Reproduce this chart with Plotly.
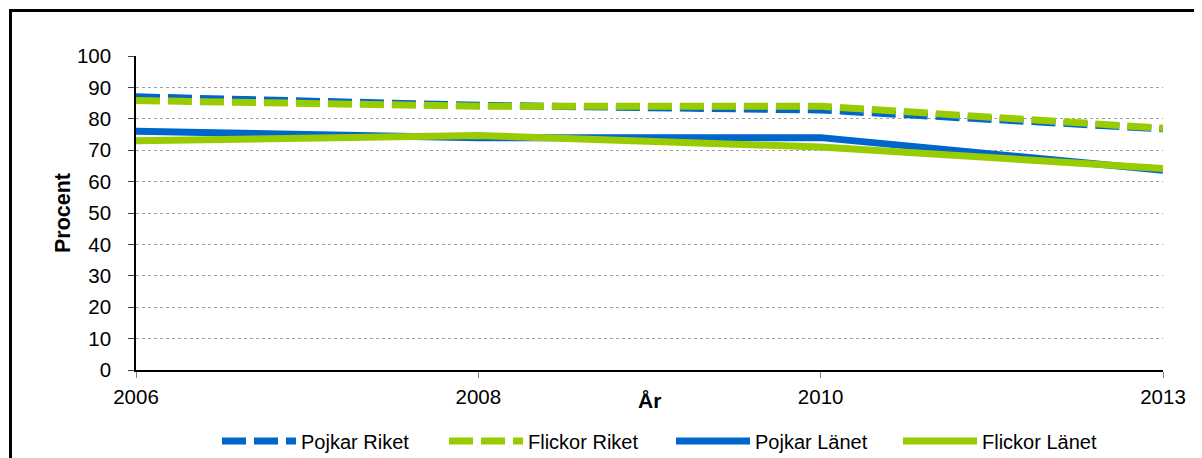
import plotly.graph_objects as go

years = ["2006", "2008", "2010", "2013"]
pojkar_riket = [87.0, 84.3, 82.8, 76.8]
flickor_riket = [85.8, 84.0, 84.0, 77.0]
pojkar_lanet = [76.0, 74.0, 74.0, 63.6]
flickor_lanet = [73.0, 74.7, 71.0, 64.2]
y_ticks = list(range(0, 101, 10))

BLUE = "#0066CC"
GREEN = "#99CC00"
FONT = "Liberation Sans, Arial, sans-serif"

fig = go.Figure()
fig.add_trace(go.Scatter(x=years, y=pojkar_riket, name="Pojkar Riket", mode="lines",
                         line=dict(color=BLUE, width=7, dash="24px,8px")))
fig.add_trace(go.Scatter(x=years, y=flickor_riket, name="Flickor Riket", mode="lines",
                         line=dict(color=GREEN, width=7, dash="24px,8px")))
fig.add_trace(go.Scatter(x=years, y=pojkar_lanet, name="Pojkar Länet", mode="lines",
                         line=dict(color=BLUE, width=7)))
fig.add_trace(go.Scatter(x=years, y=flickor_lanet, name="Flickor Länet", mode="lines",
                         line=dict(color=GREEN, width=7)))

W, H = 1202, 458
L, R, T, B = 128, 47, 48, 96
pw, ph = W - L - R, H - T - B
bottom = H - B  # pixel y of plot bottom

fig.update_layout(
    width=W, height=H,
    margin=dict(l=L, r=R, t=T, b=B, autoexpand=False),
    paper_bgcolor="white", plot_bgcolor="white",
    font=dict(family=FONT, size=20.5, color="black"),
    showlegend=True,
    legend=dict(orientation="h", x=(221 - 12 - L) / pw, xanchor="left",
                y=(bottom - 433) / ph, yanchor="middle",
                itemwidth=74, entrywidth=138, entrywidthmode="pixels",
                font=dict(size=20), bgcolor="rgba(0,0,0,0)"),
    xaxis=dict(type="category", range=[0, 3], showgrid=False,
               showline=True, linecolor="black", linewidth=1.5,
               ticks="outside", ticklen=6, tickcolor="#808080",
               tickfont=dict(size=20.5), ticklabelstandoff=2, zeroline=False),
    yaxis=dict(range=[0, 100], tickvals=y_ticks, showgrid=True, gridcolor="#A0A0A0",
               griddash="dot", gridwidth=1,
               showline=True, linecolor="black", linewidth=1.5,
               ticks="outside", ticklen=6, tickcolor="#404040",
               tickfont=dict(size=20.5), ticklabelstandoff=13, zeroline=False,
               title=dict(text="<b>Procent</b>", font=dict(size=21.5), standoff=0)),
    annotations=[dict(text="<b>År</b>", xref="paper", yref="paper", x=0.5, y=(bottom - 392) / ph,
                      xanchor="center", yanchor="middle", showarrow=False, font=dict(size=21))],
    shapes=[dict(type="rect", xref="paper", yref="paper",
                 x0=(2.5 - L) / pw, x1=(1200 - L) / pw,
                 y0=(bottom - 456) / ph, y1=(bottom - 2.5) / ph,
                 line=dict(color="black", width=3), fillcolor="rgba(0,0,0,0)", layer="below")],
)

fig.write_html("out.html")
